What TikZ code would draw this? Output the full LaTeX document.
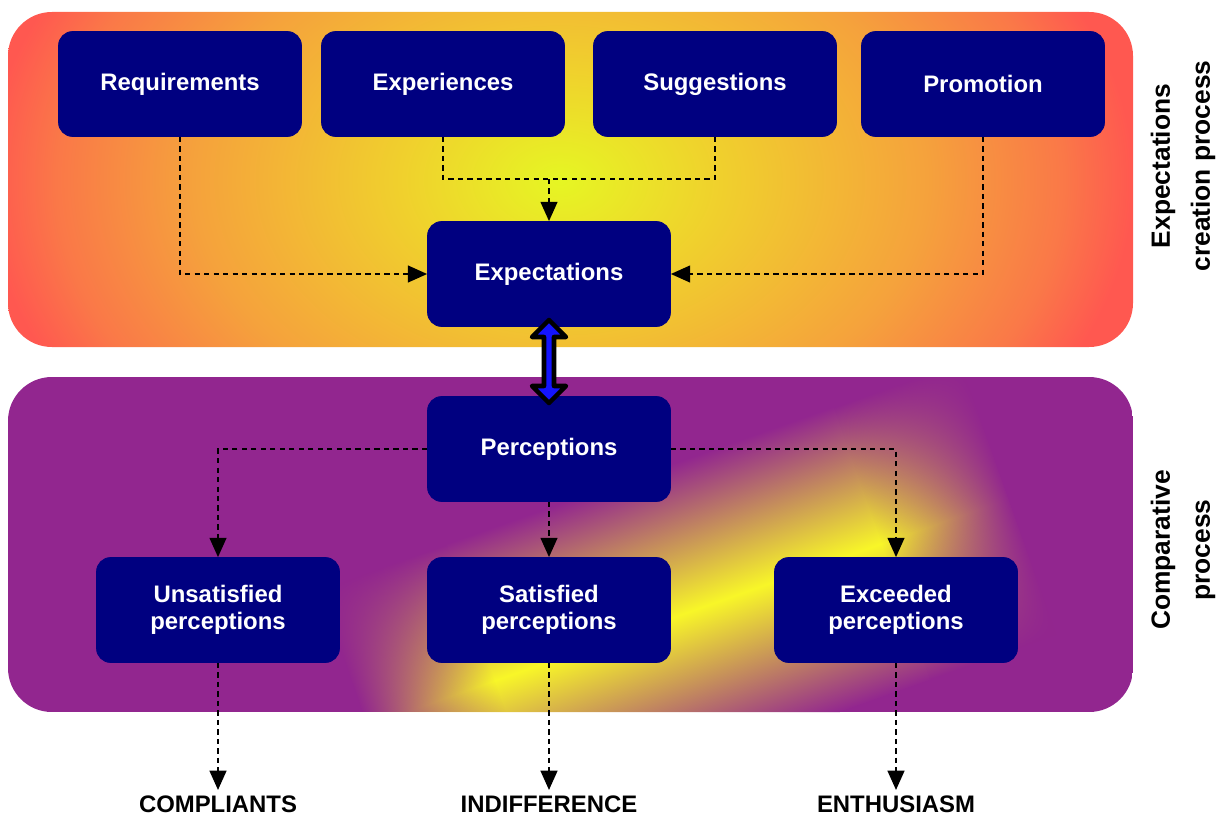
\documentclass[tikz,border=0pt]{standalone}
\usepackage{fontspec}
\setmainfont{Liberation Sans}
\usepackage{xcolor}
\usetikzlibrary{arrows.meta,positioning,calc,fadings}

\definecolor{boxblue}{RGB}{0,0,128}
\definecolor{lowpurple}{RGB}{146,38,143}
\definecolor{streakyellow}{RGB}{248,246,40}
\definecolor{arrowblue}{RGB}{20,20,255}
\definecolor{glowcore}{RGB}{230,246,35}
\definecolor{glowyellow}{RGB}{240,208,45}
\definecolor{gloworange}{RGB}{245,162,60}
\definecolor{glowdeep}{RGB}{250,120,72}
\definecolor{glowred}{RGB}{255,88,80}

\pgfdeclareradialshading{topglow}{\pgfpoint{0bp}{0bp}}{%
  color(0bp)=(glowcore); color(7bp)=(glowyellow); color(16bp)=(gloworange);
  color(22bp)=(glowdeep); color(25bp)=(glowred); color(50bp)=(glowred)}

\begin{tikzfadingfrompicture}[name=streakends]
  \fill[transparent!0] (-16bp,-50bp) rectangle (16bp,50bp);
  \shade[left color=transparent!100,right color=transparent!0] (-25bp,-50bp) rectangle (-15bp,50bp);
  \shade[left color=transparent!0,right color=transparent!100] (15bp,-50bp) rectangle (25bp,50bp);
\end{tikzfadingfrompicture}

\begin{document}
\begin{tikzpicture}[
  x=0.02cm, y=-0.02cm,
  procbox/.style={fill=boxblue,draw=boxblue,rounded corners=8pt,minimum width=4.86cm,minimum height=2.1cm,
    text=white,align=center,font=\bfseries\fontsize{13.6}{15.3}\selectfont},
  outcome/.style={inner sep=3pt,font=\bfseries\fontsize{13.6}{15.3}\selectfont},
  sidelabel/.style={rotate=90,align=center,font=\bfseries\fontsize{15}{22.7}\selectfont},
  link/.style={line width=1.3pt,dash pattern=on 3pt off 2.4pt},
  flow/.style={link,-{Triangle[length=11pt,width=9.5pt]}},
  bothway/.style={fill=arrowblue,draw=black,line width=2.6pt,line join=round}
]
\useasboundingbox (0,0) rectangle (1223,821);

\begin{scope}
  \clip[rounded corners=25pt] (8,12) rectangle (1133,347);
  \shade[shading=topglow] (-13,-220) rectangle (1133,580);
\end{scope}
\begin{scope}
  \clip[rounded corners=25pt] (8,377) rectangle (1133,712);
  \fill[lowpurple] (8,377) rectangle (1133,712);
  \shade[transform canvas={shift={(688,612)},rotate=19.5},top color=lowpurple,bottom color=lowpurple,
    middle color=streakyellow,path fading=streakends] (-340,-145) rectangle (340,145);
\end{scope}

\node[procbox] (req) at (180,84) {Requirements};
\node[procbox] (exper) at (443,84) {Experiences};
\node[procbox] (sugg) at (715,84) {Suggestions};
\node[procbox] (promo) at (983,84) {Promotion};
\node[procbox] (expect) at (549,274) {Expectations};
\node[procbox] (percep) at (549,449) {Perceptions};
\node[procbox] (unsat) at (218,610) {Unsatisfied\\perceptions};
\node[procbox] (sat) at (549,610) {Satisfied\\perceptions};
\node[procbox] (exceed) at (896,610) {Exceeded\\perceptions};

\node[outcome,anchor=north] (compl) at (218,790) {COMPLIANTS};
\node[outcome,anchor=north] (indiff) at (549,790) {INDIFFERENCE};
\node[outcome,anchor=north] (enthus) at (896,790) {ENTHUSIASM};

\node[sidelabel] (createlbl) at (1183,166) {Expectations\\creation process};
\node[sidelabel] (comparelbl) at (1183,550) {Comparative\\process};

\draw[flow] (req.south) |- (expect.west);
\draw[flow] (promo.south) |- (expect.east);
\coordinate (merge) at (549,179);
\draw[link] (exper.south) |- (merge);
\draw[link] (sugg.south) |- (merge);
\draw[flow] (merge) -- (expect.north);

\coordinate (mid) at ($(expect.south)!0.5!(percep.north)$);
\draw[bothway] ($(mid)+(0,-41.5)$) -- ++(17,17) -- ++(-12,0) -- ++(0,49) -- ++(12,0) -- ++(-17,17)
  -- ++(-17,-17) -- ++(12,0) -- ++(0,-49) -- ++(-12,0) -- cycle;

\draw[flow] (percep.west) -| (unsat.north);
\draw[flow] (percep.south) -- (sat.north);
\draw[flow] (percep.east) -| (exceed.north);
\draw[flow] (unsat.south) -- (compl.north);
\draw[flow] (sat.south) -- (indiff.north);
\draw[flow] (exceed.south) -- (enthus.north);
\end{tikzpicture}
\end{document}
